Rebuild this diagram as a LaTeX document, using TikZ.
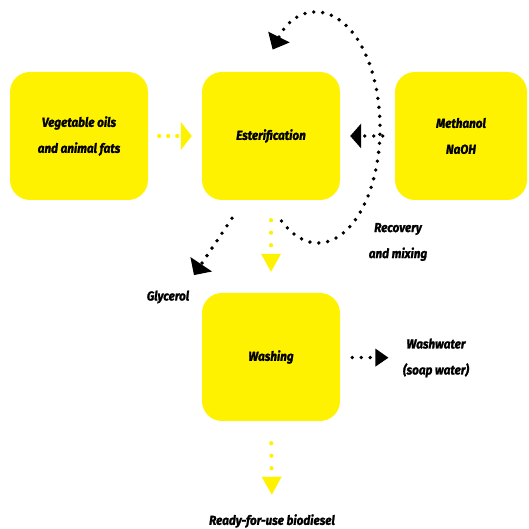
\documentclass[tikz,border=0pt]{standalone}
\usepackage{fontspec}
\setmainfont{Fira Sans}[BoldItalicFeatures={FakeBold=1.6,FakeStretch=0.9}]
\usetikzlibrary{arrows.meta}
\tikzstyle{stage}=[fill=yellow,rounded corners=20pt,minimum width=138pt,minimum height=128pt,inner sep=0pt,align=center,font=\fontsize{13}{26}\selectfont\bfseries\itshape]
\tikzstyle{tag}=[align=center,font=\fontsize{13}{26}\selectfont\bfseries\itshape]
\tikzstyle{dots}=[line width=3.8pt,line cap=round,dash pattern=on 0pt off 9pt]
\tikzstyle{flow}=[dots,yellow,line width=4.2pt,-{Triangle[line width=0pt,length=11pt,width=28pt]}]
\tikzstyle{link}=[dots,black,-{Triangle[line width=0pt,length=11pt,width=25pt]}]
\tikzstyle{down}=[dash pattern=on 0pt off 12.5pt,-{Triangle[line width=0pt,length=18pt,width=20pt]}]

\begin{document}
\begin{tikzpicture}[x=1pt,y=1pt]
                  \useasboundingbox (0,0) rectangle (529,529);

                  \node (oils) at (79,393) [stage] {Vegetable oils\\and animal fats};
                  \node (ester) at (271,393) [stage] {Esterification};
                  \node (methanol) at (461,393) [stage,minimum width=132pt] {Methanol\\NaOH};
                  \node (washing) at (271,172) [stage] {Washing};

                  \node (glycerol) at (168,232) [tag] {Glycerol};
                  \node (recovery) at (398,287) [tag] {Recovery\\and mixing};
                  \node (washwater) at (436,171) [tag] {Washwater\\(soap water)};
                  \node (biodiesel) at (272,8) [tag] {Ready-for-use biodiesel};
                  \coordinate (loop) at (318,401);

                  \draw [flow,shorten <=11pt,shorten >=10pt] (oils) -- (ester);
                  \draw [link,shorten <=12pt,shorten >=10pt] (methanol) -- (ester);
                  \draw [flow,down,shorten <=20pt,shorten >=21pt] (ester.south) -- (washing.north);
                  \draw [link,-{Triangle[line width=0pt,length=13pt,width=26pt]}] ([xshift=-39pt,yshift=-18pt]ester.south) -- ([xshift=26pt,yshift=12pt]glycerol.north);
                  \draw [link,shorten <=12pt,shorten >=11pt,-{Triangle[line width=0pt,length=13pt,width=18pt]}] (washing) -- (washwater);
                  \draw [flow,down,shorten <=22pt,shorten >=16pt] (washing.south) -- (biodiesel.north);
                  \draw [link,-{Triangle[line width=0pt,length=14pt,width=24pt]}] ([shift={(234:62pt and 115pt)}]loop) arc [start angle=234,end angle=497,x radius=62pt,y radius=115pt];
              \end{tikzpicture}
\end{document}
